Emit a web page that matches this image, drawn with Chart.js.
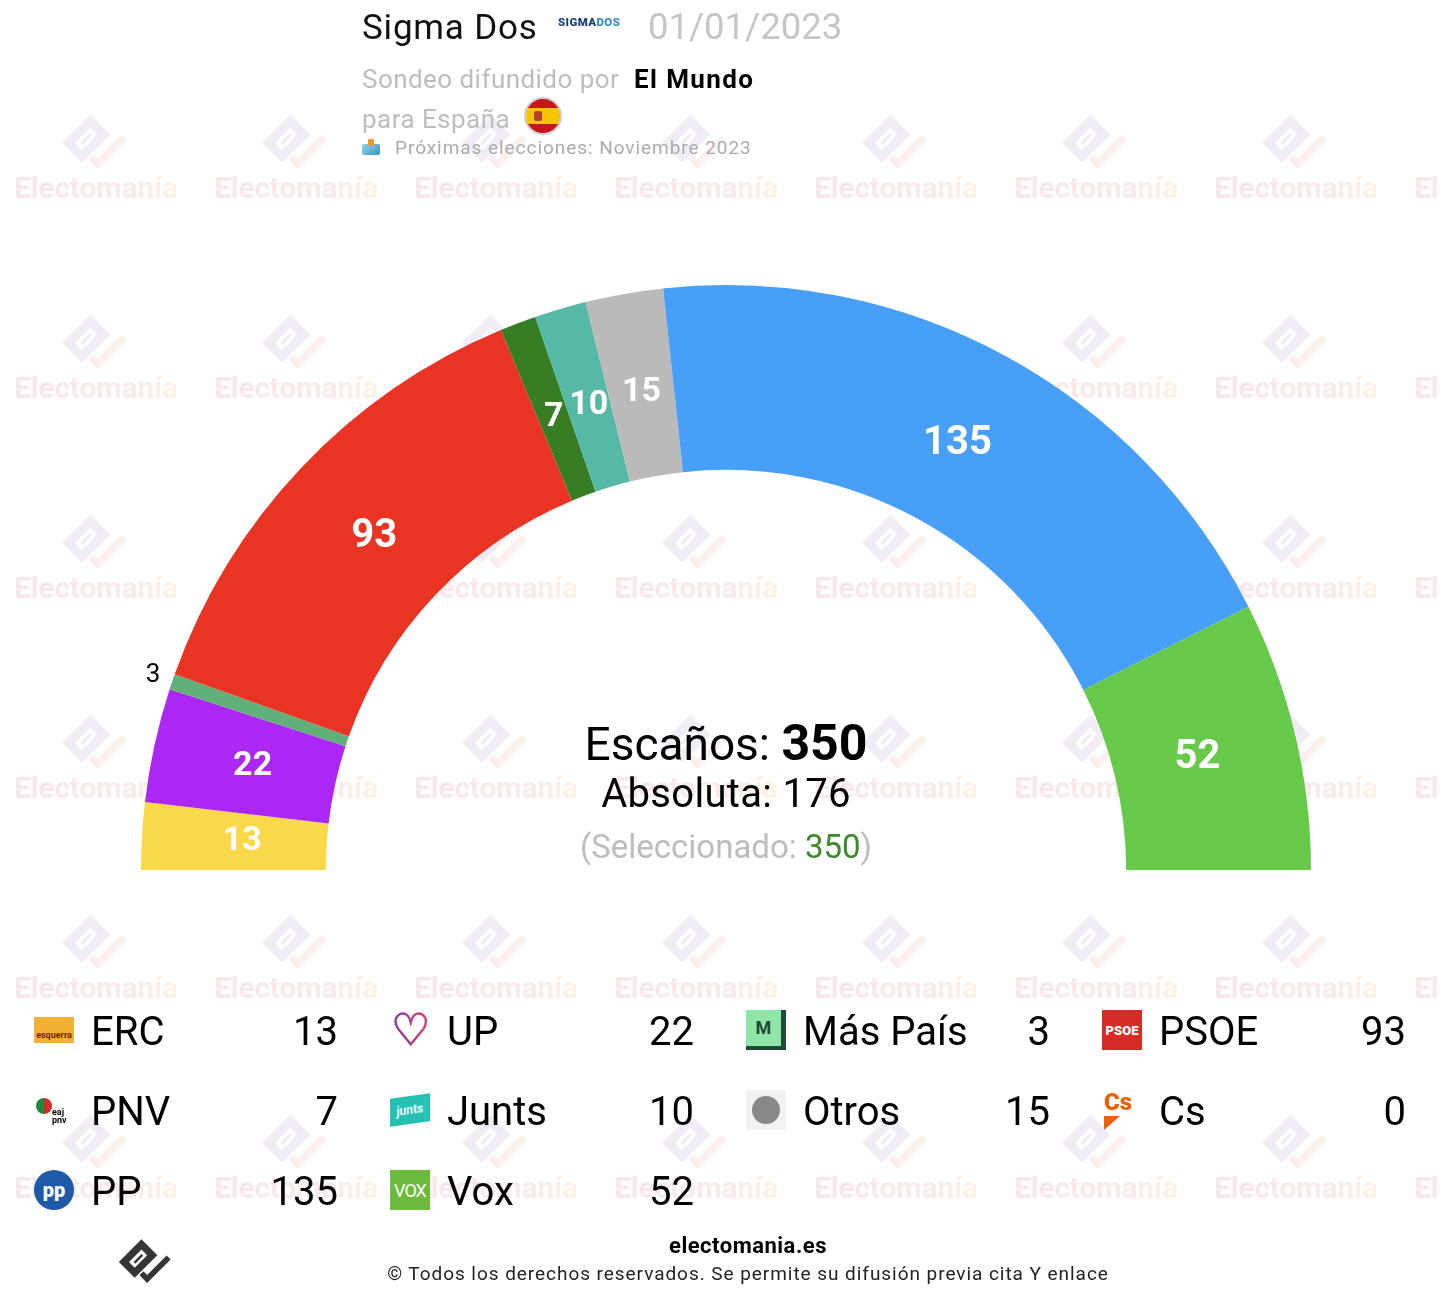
<!DOCTYPE html>
<html>
<head>
<meta charset="utf-8">
<script src="https://cdn.jsdelivr.net/npm/chart.js@4.4.1/dist/chart.umd.min.js"></script>
<style>
  html, body { margin: 0; padding: 0; background: #fff; }
  body { width: 1440px; height: 1298px; position: relative; overflow: hidden; font-family: Roboto, "Noto Sans", sans-serif; }
  #bg { position: absolute; left: 0; top: 0; }
  .t { position: absolute; white-space: nowrap; line-height: 1; }
  #chartBox { position: absolute; left: 121px; top: 265px; width: 1210px; height: 625px; }
  .center { position: absolute; left: 426px; width: 600px; text-align: center; line-height: 1; white-space: nowrap; }
  .leg-icon { position: absolute; width: 40px; height: 40px; display: flex; align-items: center; justify-content: center; overflow: hidden; font-family: Roboto, sans-serif; }
  .leg-name, .leg-val { position: absolute; font-size: 40px; line-height: 1; color: #000; white-space: nowrap; }
  .leg-val { text-align: right; width: 120px; }
</style>
</head>
<body>
<canvas id="bg" width="1440" height="1298"></canvas>

<div class="t" style="left:362px; top:10px; font-size:35px; letter-spacing:0.8px; color:#111;">Sigma Dos</div>
<div class="t" style="left:558px; top:17px; font-size:11.5px; font-weight:900; letter-spacing:0.4px;"><span style="color:#1d3f7c">SIGMA</span><span style="color:#3b8fc6">DOS</span></div>
<div class="t" style="left:648px; top:9px; font-size:36.5px; color:#c6c6c6;">01/01/2023</div>
<div class="t" style="left:362px; top:66px; font-size:26px; letter-spacing:0.45px; color:#bdbdbd;">Sondeo difundido por</div>
<div class="t" style="left:634px; top:66px; font-size:26px; letter-spacing:1.4px; font-weight:700; color:#000;">El Mundo</div>
<div class="t" style="left:362px; top:106px; font-size:26px; letter-spacing:0.45px; color:#bdbdbd;">para España</div>
<div style="position:absolute; left:524px; top:97px; width:34px; height:34px; border-radius:50%; border:2px solid #cfcfcf; overflow:hidden; background:linear-gradient(#c8161d 0 27%, #f6c600 27% 73%, #c8161d 73%);">
  <div style="position:absolute; left:8px; top:12px; width:8px; height:10px; background:#b5402a; border-radius:2px;"></div>
</div>
<div style="position:absolute; left:362px; top:139px; width:18px; height:16px;">
  <div style="position:absolute; left:0; top:5px; width:18px; height:11px; background:linear-gradient(135deg,#8fd3f0,#3a94c4); border-radius:2px;"></div>
  <div style="position:absolute; left:6px; top:0; width:6px; height:7px; background:#f29b2c; border-radius:1px;"></div>
</div>
<div class="t" style="left:395px; top:138px; font-size:19px; letter-spacing:0.95px; color:#ababab;">Próximas elecciones: Noviembre 2023</div>

<div id="chartBox"><canvas id="myChart"></canvas></div>

<div class="center" style="top:718px; font-size:46px; color:#000;">Escaños: <b style="font-size:50px;">350</b></div>
<div class="center" style="top:774px; font-size:40px; letter-spacing:0.3px; color:#000;">Absoluta: 176</div>
<div class="center" style="top:830px; font-size:33px; color:#bdbdbd;">(Seleccionado: <span style="color:#3c8a2b">350</span>)</div>

<div id="legend"></div>

<div class="t" style="left:448px; width:600px; text-align:center; top:1235px; font-size:22px; letter-spacing:0.5px; font-weight:700; color:#000;">electomania.es</div>
<div class="t" style="left:298px; width:900px; text-align:center; top:1264px; font-size:19px; letter-spacing:0.95px; color:#222;">© Todos los derechos reservados. Se permite su difusión previa cita Y enlace</div>

<script>
const parties = ["ERC", "UP", "Más País", "PSOE", "PNV", "Junts", "Otros", "Cs", "PP", "Vox"];
const seats = [13, 22, 3, 93, 7, 10, 15, 0, 135, 52];
const colors = ["#f9d84a", "#ab28f4", "#61b07a", "#e93424", "#377d23", "#56b9a6", "#bababa", "#eb6109", "#489ff8", "#67c94a"];

function drawLogo(c, cx, cy, s, body, tail) {
  c.save();
  c.translate(cx, cy);
  c.scale(s, s);
  c.rotate(-Math.PI / 4);
  c.fillStyle = body;
  c.fillRect(-24, -24, 40, 28);
  c.fillStyle = "#fff";
  c.fillRect(-15, -15, 22, 10);
  c.fillStyle = body;
  c.fillRect(-11, -11, 14, 3);
  c.strokeStyle = tail;
  c.lineWidth = 7;
  c.beginPath();
  c.moveTo(-14, 6);
  c.lineTo(-14, 16);
  c.lineTo(24, 16);
  c.stroke();
  c.restore();
}

// background watermark
(function () {
  const c = document.getElementById("bg").getContext("2d");
  for (let ix = 0; ix < 8; ix++) {
    for (let iy = 0; iy < 6; iy++) {
      const cx = 96 + 200 * ix, cy = 143 + 200 * iy;
      drawLogo(c, cx, cy, 1, "#f1ecf5", "#faf0ee");
      const g = c.createLinearGradient(cx - 80, 0, cx + 80, 0);
      g.addColorStop(0, "#f9e8ea");
      g.addColorStop(0.7, "#faeae9");
      g.addColorStop(1, "#fdf3e2");
      c.fillStyle = g;
      c.font = "bold 29.5px Roboto";
      c.textAlign = "center";
      c.fillText("Electomanía", cx, cy + 55);
    }
  }
  drawLogo(c, 146, 1262, 0.8, "#353535", "#353535");
})();

// legend
const icons = {
  "ERC": '<div style="width:40px;height:26px;background:#f2b134;color:#7a1c10;font-size:9px;font-weight:700;display:flex;align-items:flex-end;justify-content:center;padding-bottom:3px;box-sizing:border-box;">esquerra</div>',
  "UP": '<div style="font-size:44px;font-weight:900;line-height:1;background:linear-gradient(90deg,#7b3fb0,#e0406a);-webkit-background-clip:text;background-clip:text;color:transparent;">♡</div>',
  "Más País": '<div style="width:36px;height:36px;background:#8ee6a8;border-right:5px solid #1f4a34;border-bottom:5px solid #1f4a34;color:#1f4a34;font-weight:700;font-size:18px;display:flex;align-items:center;justify-content:center;">M</div>',
  "PSOE": '<div style="width:40px;height:40px;background:#d62b26;color:#fff;font-weight:900;font-size:13px;display:flex;align-items:center;justify-content:center;">PSOE</div>',
  "PNV": '<div style="position:relative;width:40px;height:40px;"><div style="position:absolute;left:2px;top:8px;width:16px;height:16px;border-radius:50%;background:conic-gradient(#d42a2a 0 50%,#1f8a3b 50% 100%);"></div><div style="position:absolute;left:18px;top:18px;font-size:9px;font-weight:700;line-height:0.9;">eaj<br>pnv</div></div>',
  "Junts": '<div style="width:40px;height:28px;background:#27c1b3;color:#fff;font-size:12px;font-weight:700;display:flex;align-items:center;justify-content:center;transform:skewY(-8deg);">junts</div>',
  "Otros": '<div style="width:40px;height:40px;background:#f2f2f2;display:flex;align-items:center;justify-content:center;"><div style="width:28px;height:28px;border-radius:50%;background:#888;"></div></div>',
  "Cs": '<div style="position:relative;width:40px;height:40px;"><div style="position:absolute;left:2px;top:-2px;color:#eb6109;font-weight:900;font-size:24px;">Cs</div><div style="position:absolute;left:2px;top:26px;width:0;height:0;border-left:16px solid #eb6109;border-bottom:14px solid transparent;"></div></div>',
  "PP": '<div style="width:40px;height:40px;border-radius:50%;background:#1d5aa8;color:#fff;font-weight:900;font-size:20px;display:flex;align-items:center;justify-content:center;">pp</div>',
  "Vox": '<div style="width:40px;height:40px;background:#6cbb3c;color:#fff;font-size:18px;display:flex;align-items:center;justify-content:center;letter-spacing:-1px;">VOX</div>'
};
const legend = document.getElementById("legend");
parties.forEach((name, i) => {
  const col = i % 4, row = Math.floor(i / 4);
  const x0 = 34 + col * 356, y0 = 1030 + row * 80;
  legend.insertAdjacentHTML("beforeend",
    '<div class="leg-icon" style="left:' + x0 + 'px;top:' + (y0 - 20) + 'px;">' + icons[name] + '</div>' +
    '<div class="leg-name" style="left:' + (x0 + 57) + 'px;top:' + (y0 - 18) + 'px;">' + name + '</div>' +
    '<div class="leg-val" style="left:' + (x0 + 184) + 'px;top:' + (y0 - 18) + 'px;">' + seats[i] + '</div>');
});

// seat numbers on slices
const segmentLabels = {
  id: "segmentLabels",
  afterDatasetsDraw(chart) {
    const ctx = chart.ctx;
    chart.getDatasetMeta(0).data.forEach((arc, i) => {
      const v = seats[i];
      if (!v) return;
      const p = arc.getProps(["x", "y", "startAngle", "endAngle", "innerRadius", "outerRadius"], true);
      const mid = (p.startAngle + p.endAngle) / 2;
      ctx.save();
      ctx.textAlign = "center";
      ctx.textBaseline = "middle";
      let r;
      if (v < 5) {
        r = p.outerRadius + 20;
        ctx.fillStyle = "#000";
        ctx.font = "26px Roboto";
      } else {
        r = (p.innerRadius + p.outerRadius) / 2 - 8;
        ctx.fillStyle = "#fff";
        ctx.font = "bold " + (v >= 50 ? 40 : 34) + "px Roboto";
      }
      ctx.fillText(String(v), p.x + Math.cos(mid) * r, p.y + Math.sin(mid) * r);
      ctx.restore();
    });
  }
};

const ctx = document.getElementById("myChart");

new Chart(ctx, {
  type: "doughnut",
  data: {
    labels: parties,
    datasets: [
      {
        label: "Escaños",
        data: seats,
        backgroundColor: colors,
        borderWidth: 0,
      },
    ],
  },
  options: {
    responsive: true,
    maintainAspectRatio: false,
    animation: false,
    rotation: -90,
    circumference: 180,
    cutout: "68.4%",
    layout: { padding: 20 },
    plugins: {
      legend: { display: false },
      tooltip: { enabled: false },
    },
  },
  plugins: [segmentLabels],
});
</script>
</body>
</html>
